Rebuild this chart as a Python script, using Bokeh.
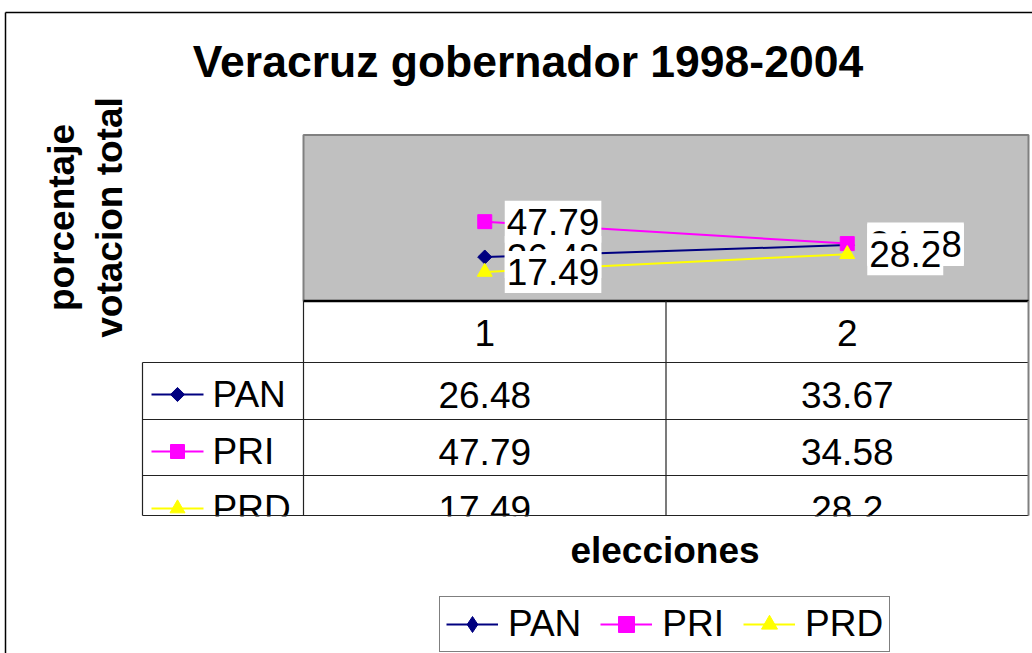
import math
from bokeh.plotting import figure
from bokeh.models import Range1d, Legend, LegendItem
from bokeh.core.properties import value
from bokeh.embed import file_html
from bokeh.resources import INLINE

# ---------------- data ----------------
title_text = "Veracruz gobernador 1998-2004"
y_label_lines = ["porcentaje", "votacion total"]
x_label = "elecciones"
categories = ["1", "2"]
series_names = ["PAN", "PRI", "PRD"]
pan = [26.48, 33.67]
pri = [47.79, 34.58]
prd = [17.49, 28.2]
series_values = [pan, pri, prd]

# ---------------- styles / layout ----------------
colors = ["#000080", "#FF00FF", "#FFFF00"]
markers = ["square", "square", "triangle"]
legend_markers = ["diamond", "square", "triangle"]
marker_angles = [math.pi / 4, 0, 0]
marker_sizes = [10, 14, 15]
FONT = "Liberation Sans"
FS = "37px"

W, H = 1032, 653
PLOT_L, PLOT_R = 303, 1028  # plot area in page px
Y0_PX = 300.5               # page y of value 0
PPU = 1.66                  # px per value unit
Y_MAX = 100

n = len(categories)
xs = [i + 1 for i in range(n)]
unit = (PLOT_R - PLOT_L) / n
x_start = 0.5 - PLOT_L / unit
x_end = x_start + W / unit
y_start = -(H - Y0_PX) / PPU
y_end = Y0_PX / PPU

p = figure(width=W, height=H, x_range=Range1d(x_start, x_end),
           y_range=Range1d(y_start, y_end), output_backend="svg",
           toolbar_location=None, min_border=0, title=None,
           x_axis_location=None, y_axis_location=None,
           outline_line_color=None, background_fill_color="white",
           border_fill_color="white")
p.xgrid.visible = False
p.ygrid.visible = False
p.extra_x_ranges = {"px": Range1d(0, W)}
p.extra_y_ranges = {"px": Range1d(H, 0)}
PX = dict(x_range_name="px", y_range_name="px")
TXT = dict(text_font=value(FONT), text_font_size=value(FS), text_color="black")

# outer chart border
p.segment(x0=[5, 5], y0=[12, 12], x1=[5, 1200], y1=[900, 12],
          line_color="black", line_width=1.5, **PX)

# title
p.text(x=[527.5], y=[61], text=[title_text], text_font=value(FONT),
       text_font_size=value("44.5px"), text_font_style="bold",
       text_align="center", text_baseline="middle", **PX)

# y label (two rotated lines)
p.text(x=[61, 109], y=[217, 217], text=y_label_lines, angle=math.pi / 2,
       text_font=value(FONT), text_font_size=value(FS), text_font_style="bold",
       text_align="center", text_baseline="middle", **PX)

# plot area
p.quad(left=[0.5], right=[n + 0.5], bottom=[0], top=[Y_MAX],
       fill_color="#C0C0C0", line_color="#808080", line_width=2)

# series lines + markers
for vals, c, m, a, s in zip(series_values, colors, markers, marker_angles, marker_sizes):
    p.line(xs, vals, line_color=c, line_width=2)
    p.scatter(xs, vals, marker=m, angle=a, size=s, fill_color=c, line_color=c)

# data labels
for vals in series_values:
    p.text(xs, vals, text=[str(v) for v in vals], x_offset=20,
           text_align="left", text_baseline="middle",
           background_fill_color="white",
           padding=dict(left=2, right=2, top=8, bottom=8), **TXT)

# category axis line
p.segment(x0=[0.5], y0=[0], x1=[n + 0.5], y1=[0], line_color="black", line_width=2.5)

# ---- data table ----
HEADER_Y = 332
ROW_Y = [394, 451, 508]
p.text(xs, [HEADER_Y] * n, text=categories, text_align="center",
       text_baseline="middle", y_range_name="px", **TXT)
for name, vals, c, m, a, s, ry in zip(series_names, series_values, colors,
                                       markers, marker_angles, marker_sizes, ROW_Y):
    p.segment(x0=[151], y0=[ry], x1=[203], y1=[ry], line_color=c, line_width=2, **PX)
    p.scatter([177], [ry], marker=m, angle=a, size=s, fill_color=c, line_color=c, **PX)
    p.text([212], [ry], text=[name], text_align="left", text_baseline="middle", **PX, **TXT)
    p.text(xs, [ry] * n, text=[str(v) for v in vals], text_align="center",
           text_baseline="middle", y_range_name="px", **TXT)

# clip last row
p.quad(left=[120], right=[1100], top=[516], bottom=[530], fill_color="white",
       line_color=None, **PX)

# table grid
p.segment(x0=[142] * 4, x1=[PLOT_R] * 4, y0=[362, 419, 475, 515], y1=[362, 419, 475, 515],
          line_color="#222222", line_width=1.2, **PX)
p.segment(x0=[142], x1=[142], y0=[362], y1=[515], line_color="#222222", line_width=1.2, **PX)
bounds = [i + 0.5 for i in range(n)]
p.segment(x0=bounds, x1=bounds, y0=[Y0_PX] * n, y1=[515] * n,
          line_color="#222222", line_width=1.2, y_range_name="px")
p.segment(x0=[n + 0.5], x1=[n + 0.5], y0=[Y0_PX], y1=[515],
          line_color="#808080", line_width=2, y_range_name="px")

# x label
p.text(x=[664.5], y=[550], text=[x_label], text_font=value(FONT),
       text_font_size=value(FS), text_font_style="bold",
       text_align="center", text_baseline="middle", **PX)

# legend (legend-only renderers, placed off-canvas)
items = []
for nm, c, lm in zip(series_names, colors, legend_markers):
    lr = p.line(x=[-50, -49], y=[-5000, -5000], line_color=c, line_width=2)
    mr = p.scatter(x=[-50], y=[-5000], marker=lm, fill_color=c, line_color=c)
    items.append(LegendItem(label=nm, renderers=[lr, mr]))
legend = Legend(items=items, orientation="horizontal", location=(439, 1),
                label_text_font=FONT, label_text_font_size=FS,
                label_text_color="black",
                glyph_width=52, glyph_height=40, label_height=40,
                label_standoff=10, spacing=19, padding=6, margin=0,
                border_line_color="black", border_line_width=1,
                background_fill_color="white", background_fill_alpha=1)
p.add_layout(legend)

open("out.html", "w").write(file_html(p, INLINE))
